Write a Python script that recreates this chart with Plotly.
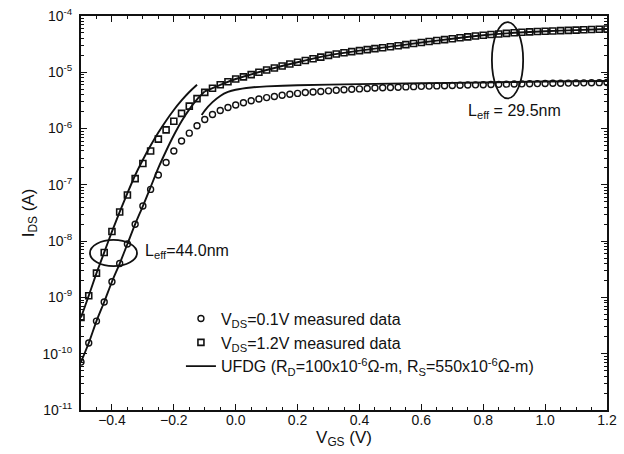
import plotly.graph_objects as go

# ---------------- data ----------------
vgs_meas = [-0.5, -0.475, -0.45, -0.425, -0.4, -0.375, -0.35, -0.325, -0.3, -0.275,
            -0.25, -0.225, -0.2, -0.175, -0.15, -0.125, -0.1, -0.075, -0.05, -0.025,
            0.0, 0.025, 0.05, 0.075, 0.1, 0.125, 0.15, 0.175, 0.2, 0.225,
            0.25, 0.275, 0.3, 0.325, 0.35, 0.375, 0.4, 0.425, 0.45, 0.475,
            0.5, 0.525, 0.55, 0.575, 0.6, 0.625, 0.65, 0.675, 0.7, 0.725,
            0.75, 0.775, 0.8, 0.825, 0.85, 0.875, 0.9, 0.925, 0.95, 0.975,
            1.0, 1.025, 1.05, 1.075, 1.1, 1.125, 1.15, 1.175, 1.2]

ids_vds01 = [7.1e-11, 1.55e-10, 3.8e-10, 8.3e-10, 1.9e-9, 4.0e-9, 8.9e-9, 2.0e-8, 4.2e-8, 8.3e-8,
             1.5e-7, 2.5e-7, 4.0e-7, 6.0e-7, 8.3e-7, 1.12e-6, 1.45e-6, 1.78e-6, 2.1e-6, 2.37e-6,
             2.63e-6, 2.88e-6, 3.13e-6, 3.35e-6, 3.55e-6, 3.72e-6, 3.9e-6, 4.07e-6, 4.22e-6, 4.37e-6,
             4.47e-6, 4.57e-6, 4.68e-6, 4.79e-6, 4.9e-6, 5.0e-6, 5.07e-6, 5.15e-6, 5.25e-6, 5.31e-6,
             5.37e-6, 5.43e-6, 5.5e-6, 5.56e-6, 5.62e-6, 5.68e-6, 5.73e-6, 5.78e-6, 5.83e-6, 5.88e-6,
             5.93e-6, 5.98e-6, 6.02e-6, 6.07e-6, 6.11e-6, 6.15e-6, 6.19e-6, 6.23e-6, 6.27e-6, 6.3e-6,
             6.34e-6, 6.37e-6, 6.4e-6, 6.43e-6, 6.46e-6, 6.49e-6, 6.52e-6, 6.55e-6, 6.58e-6]

ids_vds12 = [4.4e-10, 1.07e-9, 2.7e-9, 6.3e-9, 1.48e-8, 3.3e-8, 6.6e-8, 1.29e-7, 2.4e-7, 4.0e-7,
             6.5e-7, 9.5e-7, 1.35e-6, 1.86e-6, 2.5e-6, 3.4e-6, 4.4e-6, 5.2e-6, 6.0e-6, 6.8e-6,
             7.6e-6, 8.3e-6, 9.1e-6, 1.0e-5, 1.1e-5, 1.19e-5, 1.29e-5, 1.4e-5, 1.51e-5, 1.62e-5,
             1.74e-5, 1.86e-5, 2.0e-5, 2.11e-5, 2.22e-5, 2.33e-5, 2.43e-5, 2.53e-5, 2.63e-5, 2.73e-5,
             2.85e-5, 2.97e-5, 3.1e-5, 3.24e-5, 3.38e-5, 3.52e-5, 3.66e-5, 3.8e-5, 3.95e-5, 4.1e-5,
             4.25e-5, 4.4e-5, 4.55e-5, 4.68e-5, 4.8e-5, 4.92e-5, 5.03e-5, 5.13e-5, 5.22e-5, 5.3e-5,
             5.37e-5, 5.43e-5, 5.5e-5, 5.56e-5, 5.62e-5, 5.69e-5, 5.75e-5, 5.82e-5, 5.89e-5]

# UFDG model, L_eff = 44.0 nm (subthreshold fit)
vgs_m44_hi = [-0.5, -0.475, -0.45, -0.425, -0.4, -0.375, -0.35, -0.325, -0.3, -0.275,
              -0.25, -0.225, -0.2, -0.175, -0.15, -0.125]
ids_m44_hi = [4.4e-10, 1.07e-9, 2.7e-9, 6.3e-9, 1.48e-8, 3.3e-8, 7.1e-8, 1.48e-7, 2.8e-7, 5.0e-7,
              8.5e-7, 1.38e-6, 2.14e-6, 3.16e-6, 4.47e-6, 6.0e-6]
vgs_m44_lo = [-0.5, -0.475, -0.45, -0.425, -0.4, -0.375, -0.35, -0.325, -0.3, -0.275,
              -0.25, -0.225, -0.2, -0.175, -0.15, -0.125, -0.1]
ids_m44_lo = [7.1e-11, 1.55e-10, 3.8e-10, 8.3e-10, 1.9e-9, 4.0e-9, 8.9e-9, 2.0e-8, 4.2e-8, 9.1e-8,
              2.0e-7, 4.0e-7, 7.6e-7, 1.35e-6, 2.19e-6, 3.3e-6, 4.57e-6]

# UFDG model, L_eff = 29.5 nm (strong-inversion fit)
vgs_m29_hi = [-0.1, -0.05, 0.0, 0.1, 0.2, 0.3, 0.4, 0.5, 0.6, 0.7, 0.8, 0.9, 1.0, 1.1, 1.2]
ids_m29_hi = [4.57e-6, 6.0e-6, 7.6e-6, 1.1e-5, 1.51e-5, 2.0e-5, 2.43e-5, 2.85e-5, 3.38e-5,
              3.95e-5, 4.55e-5, 5.03e-5, 5.37e-5, 5.62e-5, 5.89e-5]
vgs_m29_lo = [-0.11, -0.1, -0.075, -0.05, -0.025, 0.0, 0.05, 0.1, 0.2, 0.4, 0.6, 0.8, 1.0, 1.2]
ids_m29_lo = [1.74e-6, 2.09e-6, 2.95e-6, 3.8e-6, 4.47e-6, 4.9e-6, 5.37e-6, 5.62e-6, 5.89e-6,
              6.17e-6, 6.38e-6, 6.6e-6, 6.84e-6, 7.0e-6]

y_tick_vals = [1e-11, 1e-10, 1e-9, 1e-8, 1e-7, 1e-6, 1e-5, 1e-4]
y_tick_text = ["10<sup>-11</sup>", "10<sup>-10</sup>", "10<sup>-9</sup>", "10<sup>-8</sup>",
               "10<sup>-7</sup>", "10<sup>-6</sup>", "10<sup>-5</sup>", "10<sup>-4</sup>"]
y_minor_vals = [m * d for d in [1e-11, 1e-10, 1e-9, 1e-8, 1e-7, 1e-6, 1e-5] for m in range(2, 10)]

# annotation ellipses (VGS range, IDS range)
ell_44_v = [-0.471, -0.319]
ell_44_i = [3.6e-9, 1.05e-8]
ell_29_v = [0.828, 0.929]
ell_29_i = [3.43e-6, 7.8e-5]

FONT = "Liberation Sans, Arial, Helvetica, sans-serif"
INK = "#111111"

fig = go.Figure()

fig.add_trace(go.Scatter(
    x=vgs_meas, y=ids_vds01, mode="markers",
    name="V<sub>DS</sub>=0.1V measured data",
    marker=dict(symbol="circle-open", size=6, color=INK, line=dict(width=1.4, color=INK)),
))
fig.add_trace(go.Scatter(
    x=vgs_meas, y=ids_vds12, mode="markers",
    name="V<sub>DS</sub>=1.2V measured data",
    marker=dict(symbol="square-open", size=6, color=INK, line=dict(width=1.6, color=INK)),
))
line_style = dict(color=INK, width=1.9, shape="spline", smoothing=0.6)
fig.add_trace(go.Scatter(
    x=vgs_m44_lo, y=ids_m44_lo, mode="lines", line=line_style,
    name="UFDG (R<sub>D</sub>=100x10<sup>-6</sup>Ω-m, R<sub>S</sub>=550x10<sup>-6</sup>Ω-m)",
    showlegend=True,
))
fig.add_trace(go.Scatter(x=vgs_m44_hi, y=ids_m44_hi, mode="lines", line=line_style, showlegend=False))
fig.add_trace(go.Scatter(x=vgs_m29_hi, y=ids_m29_hi, mode="lines", line=line_style, showlegend=False))
fig.add_trace(go.Scatter(x=vgs_m29_lo, y=ids_m29_lo, mode="lines", line=line_style, showlegend=False))

fig.add_shape(type="circle", xref="x", yref="y", x0=ell_44_v[0], x1=ell_44_v[1],
              y0=ell_44_i[0], y1=ell_44_i[1], line=dict(color=INK, width=1.8))
fig.add_shape(type="circle", xref="x", yref="y", x0=ell_29_v[0], x1=ell_29_v[1],
              y0=ell_29_i[0], y1=ell_29_i[1], line=dict(color=INK, width=1.8))

fig.add_annotation(x=-0.3, y=-8.19, xref="x", yref="y", text="L<sub>eff</sub>=44.0nm",
                   showarrow=False, xanchor="left", yanchor="middle",
                   font=dict(family=FONT, size=16, color=INK))
fig.add_annotation(x=0.745, y=-5.69, xref="x", yref="y", text="L<sub>eff</sub> = 29.5nm",
                   showarrow=False, xanchor="left", yanchor="middle",
                   font=dict(family=FONT, size=16, color=INK))

fig.update_layout(
    width=624, height=454,
    margin=dict(l=81, r=17, t=16, b=44),
    paper_bgcolor="white", plot_bgcolor="white",
    font=dict(family=FONT, color=INK, size=13),
    showlegend=True,
    legend=dict(x=0.19, y=0.275, xanchor="left", yanchor="top",
                bgcolor="rgba(0,0,0,0)", borderwidth=0,
                font=dict(family=FONT, size=16, color=INK),
                itemwidth=30, tracegroupgap=0),
)

fig.update_xaxes(
    range=[-0.5, 1.2], showgrid=False, zeroline=False, automargin=False,
    showline=True, linecolor=INK, linewidth=2, mirror="allticks",
    ticks="inside", ticklen=6, tickwidth=1.2, tickcolor=INK,
    tick0=0, dtick=0.2, tickformat=".1f",
    tickfont=dict(family=FONT, size=14, color=INK),
    ticklabelstandoff=-4,
    minor=dict(ticks="inside", ticklen=3, tickwidth=1, tickcolor=INK, dtick=0.05, tick0=0),
    title=dict(text="V<sub>GS</sub> (V)", font=dict(family=FONT, size=17, color=INK), standoff=4),
)
fig.update_yaxes(
    type="log", range=[-11, -4], showgrid=False, zeroline=False, automargin=False,
    showline=True, linecolor=INK, linewidth=2, mirror="allticks",
    ticks="inside", ticklen=6, tickwidth=1.2, tickcolor=INK,
    tickmode="array", tickvals=y_tick_vals, ticktext=y_tick_text,
    tickfont=dict(family=FONT, size=14, color=INK),
    ticklabelstandoff=4,
    minor=dict(ticks="inside", ticklen=3, tickwidth=1, tickcolor=INK,
               tickmode="array", tickvals=y_minor_vals),
    title=dict(text="I<sub>DS</sub> (A)", font=dict(family=FONT, size=17, color=INK), standoff=4),
)

fig.write_html("out.html", config={"displayModeBar": False},
               post_script="document.body.style.margin='0';")
